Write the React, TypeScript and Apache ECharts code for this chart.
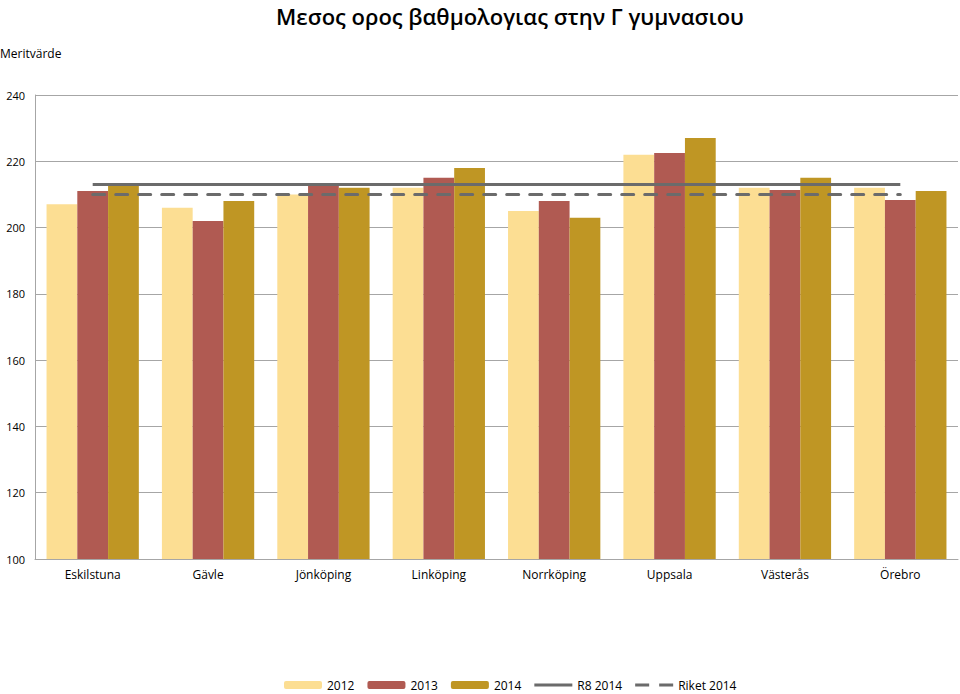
import React, { useEffect, useRef } from "react";
import * as echarts from "echarts";

const categories = ["Eskilstuna", "Gävle", "Jönköping", "Linköping", "Norrköping", "Uppsala", "Västerås", "Örebro"];
const v2012 = [207, 206, 210, 212, 205, 222, 212, 212];
const v2013 = [211, 202, 213, 215, 208, 222.5, 211.3, 208.3];
const v2014 = [213, 208, 212, 218, 203, 227, 215, 211];
const r8_2014 = [213, 213, 213, 213, 213, 213, 213, 213];
const riket2014 = [210, 210, 210, 210, 210, 210, 210, 210];
const yTicks = { min: 100, max: 240, interval: 20 };

const FONT = "'Open Sans', 'Noto Sans', sans-serif";

export default function App() {
  const ref = useRef<HTMLDivElement>(null);
  useEffect(() => {
    const chart = echarts.init(ref.current!, null, { renderer: "svg" });
    chart.setOption({
      animation: false,
      backgroundColor: "#ffffff",
      textStyle: { fontFamily: FONT },
      title: {
        text: "Μεσος ορος βαθμολογιας στην Γ γυμνασιου",
        left: 510,
        textAlign: "center",
        top: 3,
        padding: 0,
        textStyle: { fontSize: 22, fontWeight: 600, color: "#000", fontFamily: FONT, lineHeight: 26 },
      },
      graphic: [
        {
          type: "text",
          left: 0,
          top: 47,
          style: { text: "Meritvärde", fontSize: 12, fontWeight: 500, fill: "#000", fontFamily: FONT },
        },
      ],
      legend: {
        bottom: -2,
        left: 279,
        itemGap: 13,
        itemWidth: 38,
        itemHeight: 8,
        textStyle: { fontSize: 12, color: "#000", fontFamily: FONT },
        data: [
          { name: "2012" },
          { name: "2013" },
          { name: "2014" },
          { name: "R8 2014", icon: "path://M0,0 L40,0 L40,3 L0,3 Z" },
          { name: "Riket 2014", icon: "path://M0,0 L14,0 L14,3 L0,3 Z M24,0 L38,0 L38,3 L24,3 Z" },
        ],
      },
      grid: { left: 35, right: 2, top: 95, bottom: 135, containLabel: false },
      xAxis: {
        type: "category",
        data: categories,
        axisLine: { lineStyle: { color: "#a6a6a6" } },
        axisTick: { show: false },
        axisLabel: { color: "#000", fontSize: 12, margin: 9, fontFamily: FONT },
      },
      yAxis: {
        type: "value",
        min: yTicks.min,
        max: yTicks.max,
        interval: yTicks.interval,
        axisLine: { show: true, lineStyle: { color: "#a6a6a6" } },
        axisTick: { show: false },
        axisLabel: { color: "#000", fontSize: 11, margin: 10, fontFamily: FONT },
        splitLine: { lineStyle: { color: "#a6a6a6" } },
      },
      series: [
        { name: "2012", type: "bar", data: v2012, barGap: "0%", barCategoryGap: "20%", itemStyle: { color: "#FCDE93" } },
        { name: "2013", type: "bar", data: v2013, itemStyle: { color: "#B05A52" } },
        { name: "2014", type: "bar", data: v2014, itemStyle: { color: "#BF9624" } },
        {
          name: "R8 2014",
          type: "line",
          data: r8_2014,
          symbol: "none",
          lineStyle: { color: "#6B6B6B", width: 3, type: "solid" },
          itemStyle: { color: "#6B6B6B" },
          z: 5,
        },
        {
          name: "Riket 2014",
          type: "line",
          data: riket2014,
          symbol: "none",
          lineStyle: { color: "#6B6B6B", width: 3, type: [12, 11], cap: "round" },
          itemStyle: { color: "#6B6B6B" },
          z: 5,
        },
      ],
    });
    return () => chart.dispose();
  }, []);
  return (
    <div
      ref={ref}
      style={{ position: "absolute", left: 0, top: 0, width: 960, height: 694 }}
    />
  );
}
